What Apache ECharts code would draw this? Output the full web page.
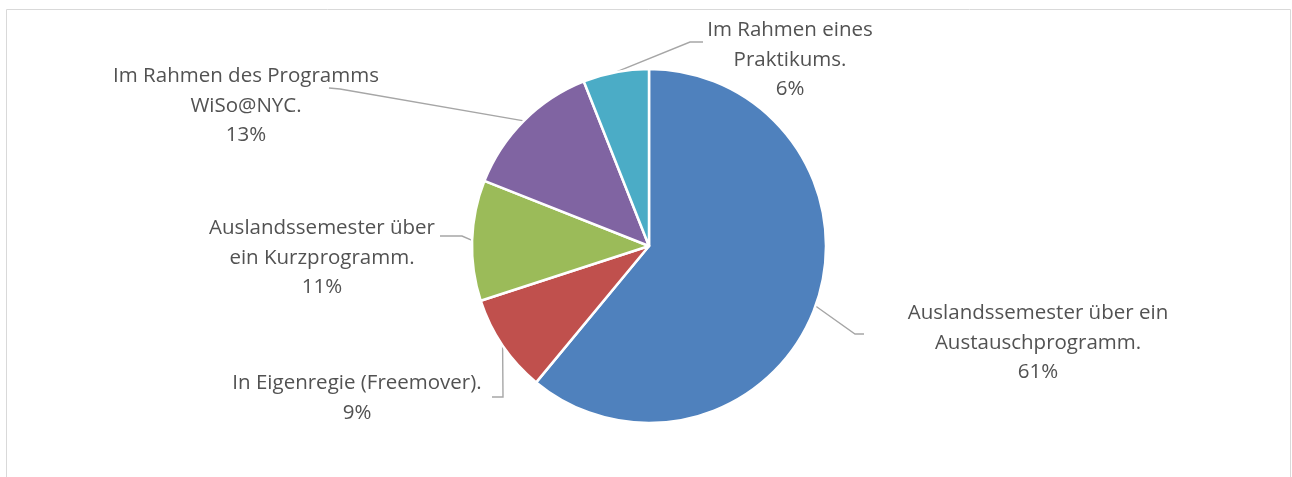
<!DOCTYPE html>
<html>
<head>
<meta charset="utf-8">
<script src="https://cdn.jsdelivr.net/npm/echarts@6/dist/echarts.min.js"></script>
<style>
  html, body { margin: 0; padding: 0; background: #fff; }
  #chart { width: 1292px; height: 477px; }
</style>
</head>
<body>
<div id="chart"></div>
<script>
// Wege ins Ausland – Anteile in Prozent
const categories = [
  'Auslandssemester über ein\nAustauschprogramm.',
  'In Eigenregie (Freemover).',
  'Auslandssemester über\nein Kurzprogramm.',
  'Im Rahmen des Programms\nWiSo@NYC.',
  'Im Rahmen eines\nPraktikums.'
];
const shares = [61, 9, 11, 13, 6];
const colors = ['#4f81bd', '#c0504d', '#9bbb59', '#8064a2', '#4bacc6'];

// Label block centres and leader-line elbows (pixels in the chart canvas)
const labelSpots = [
  { x: 1038, y: 343, elbow: [855, 334], end: [864, 334] },
  { x: 357,  y: 398, elbow: [503, 397], end: [492, 397] },
  { x: 322,  y: 258, elbow: [462, 236], end: [440, 236] },
  { x: 246,  y: 106, elbow: [340, 89],  end: [329, 88] },
  { x: 790,  y: 60,  elbow: [690, 42],  end: [703, 42] }
];

const chart = echarts.init(document.getElementById('chart'));

chart.setOption({
  animation: false,
  color: colors,
  graphic: [{
    type: 'rect',
    shape: { x: 6.5, y: 9.5, width: 1284, height: 520 },
    style: { fill: 'none', stroke: '#d9d9d9', lineWidth: 1 },
    silent: true
  }],
  series: [{
    type: 'pie',
    center: [649, 246],
    radius: [0, 177],
    startAngle: 90,
    clockwise: true,
    avoidLabelOverlap: false,
    itemStyle: { borderColor: '#ffffff', borderWidth: 2.5 },
    label: {
      show: true,
      formatter: p => p.name + '\n' + p.value + '%',
      fontFamily: 'Open Sans',
      fontSize: 20.5,
      lineHeight: 29.5,
      color: '#525252',
      align: 'center'
    },
    labelLine: {
      show: true,
      lineStyle: { color: '#a6a6a6', width: 1.4 }
    },
    labelLayout: function (params) {
      const s = labelSpots[params.dataIndex];
      const start = params.labelLinePoints ? params.labelLinePoints[0] : s.elbow;
      return {
        x: s.x,
        y: s.y,
        align: 'center',
        verticalAlign: 'middle',
        labelLinePoints: [start, s.elbow, s.end]
      };
    },
    data: categories.map((name, i) => ({ name: name, value: shares[i] }))
  }]
});
</script>
</body>
</html>
